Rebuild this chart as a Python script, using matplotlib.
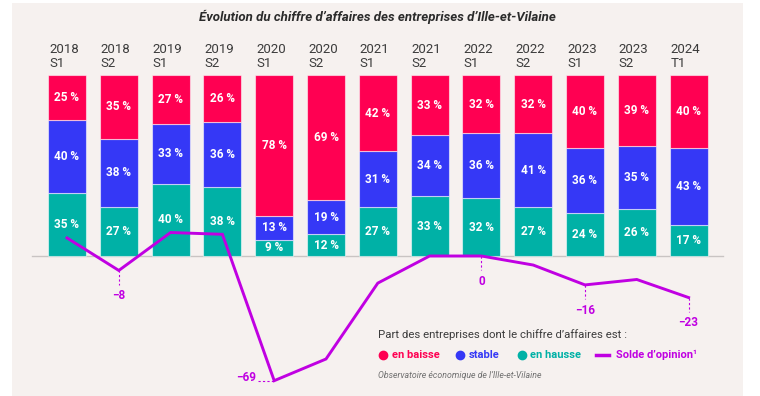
import matplotlib
matplotlib.use("Agg")
import matplotlib.pyplot as plt
from matplotlib.patches import Rectangle
from matplotlib.lines import Line2D

plt.rcParams["font.family"] = ["Roboto", "DejaVu Sans"]

# data
years = ["2018", "2018", "2019", "2019", "2020", "2020", "2021",
         "2021", "2022", "2022", "2023", "2023", "2024"]
subs = ["S1", "S2", "S1", "S2", "S1", "S2", "S1", "S2", "S1", "S2", "S1", "S2", "T1"]
baisse = [25, 35, 27, 26, 78, 69, 42, 33, 32, 32, 40, 39, 40]
stable = [40, 38, 33, 36, 13, 19, 31, 34, 36, 41, 36, 35, 43]
hausse = [35, 27, 40, 38, 9, 12, 27, 33, 32, 27, 24, 26, 17]
solde = [10, -8, 13, 12, -69, -57, -15, 0, 0, -5, -16, -13, -23]
solde_shown = [1, 4, 8, 10, 12]  # points with a value label

RED = "#ff0052"
BLUE = "#3538f6"
TEAL = "#00b1a6"
PURPLE = "#c000e2"
GREY = "#3c3c3c"
PANEL = "#f6f1ef"

W, H = 760, 396
fig = plt.figure(figsize=(W / 100, H / 100), dpi=100)
fig.patch.set_facecolor("white")
fig.patches.append(Rectangle((12 / W, 0), (743 - 12) / W, (H - 3) / H,
                             transform=fig.transFigure, facecolor=PANEL,
                             edgecolor="none", zorder=-5))


def fx(px):
    return px / W


def fy(py):
    return 1 - py / H


# one axes over the whole figure: bar centre i -> 67 + 51.8*i px, value v -> 256 - 1.807*v px
ax = fig.add_axes([0, 0, 1, 1])
ax.set_facecolor("none")
ax.set_xlim(-67 / 51.8, (W - 67) / 51.8)
ax.set_ylim(-(H - 256) / 1.807, 256 / 1.807)
ax.axis("off")

x = list(range(len(years)))
bw = 0.73
edge = dict(edgecolor=(1, 1, 1, 0.55), linewidth=0.8)
ax.bar(x, hausse, bw, color=TEAL, zorder=2, **edge)
ax.bar(x, stable, bw, bottom=hausse, color=BLUE, zorder=2, **edge)
bot2 = [h + s for h, s in zip(hausse, stable)]
ax.bar(x, baisse, bw, bottom=bot2, color=RED, zorder=2, **edge)

lab = dict(color="white", fontsize=8.5, fontweight="bold", ha="center",
           va="center", zorder=3)
for i in x:
    ax.text(i, hausse[i] / 2, f"{hausse[i]} %", **lab)
    ax.text(i, hausse[i] + stable[i] / 2, f"{stable[i]} %", **lab)
    ax.text(i, bot2[i] + baisse[i] / 2, f"{baisse[i]} %", **lab)
    ax.text(i - bw / 2 + 0.02, 114.3, years[i], color=GREY, fontsize=9.5,
            ha="left", va="center")
    ax.text(i - bw / 2 + 0.02, 106.8, subs[i], color=GREY, fontsize=9.5,
            ha="left", va="center")

ax.plot([-0.676, 12.66], [0, 0], color="#c9c4c3", lw=1, zorder=1)

ax.plot(x, solde, color=PURPLE, lw=2.1, solid_joinstyle="miter", zorder=4)

for i in solde_shown:
    v = solde[i]
    if i == 4:
        ax.plot([3.69, i], [v, v], color=PURPLE, lw=0.8, ls=(0, (2, 2)), zorder=4)
        ax.text(3.65, v + 2, f"\u2212{abs(v)}", color=PURPLE, fontsize=8.5,
                fontweight="bold", ha="right", va="center")
    else:
        ax.plot([i, i], [v, v - 8], color=PURPLE, lw=0.8, ls=(0, (2, 2)), zorder=4)
        txt = f"\u2212{abs(v)}" if v < 0 else f"{v}"
        ax.text(i, v - 14, txt, color=PURPLE, fontsize=8.5, fontweight="bold",
                ha="center", va="center")

fig.text(fx(377), fy(17), "\u00c9volution du chiffre d\u2019affaires des entreprises d\u2019Ille-et-Vilaine",
         color="#2b2b2b", fontsize=9.5, fontweight="bold", style="italic",
         ha="center", va="center")

# legend
fig.text(fx(378), fy(334.5), "Part des entreprises dont le chiffre d\u2019affaires est :",
         color=GREY, fontsize=8.2, ha="left", va="center")
items = [(383, 392, RED, "en baisse"), (460, 469, BLUE, "stable"),
         (522, 530, TEAL, "en hausse")]
for dx, tx, c, t in items:
    fig.add_artist(Line2D([fx(dx)], [fy(355)], marker="o", markersize=6,
                          color=c, linestyle="none", transform=fig.transFigure))
    fig.text(fx(tx), fy(355), t, color=c, fontsize=8, fontweight="bold",
             ha="left", va="center")
fig.add_artist(Line2D([fx(596), fx(609)], [fy(355), fy(355)], color=PURPLE,
                      lw=2.5, transform=fig.transFigure))
fig.text(fx(616), fy(355), "Solde d\u2019opinion\u00b9", color=PURPLE, fontsize=8,
         fontweight="bold", ha="left", va="center")
fig.text(fx(378), fy(376), "Observatoire \u00e9conomique de l\u2019Ille-et-Vilaine",
         color="#707070", fontsize=6.3, style="italic", ha="left", va="center")

fig.savefig("out.png", dpi=100, facecolor=fig.get_facecolor())
